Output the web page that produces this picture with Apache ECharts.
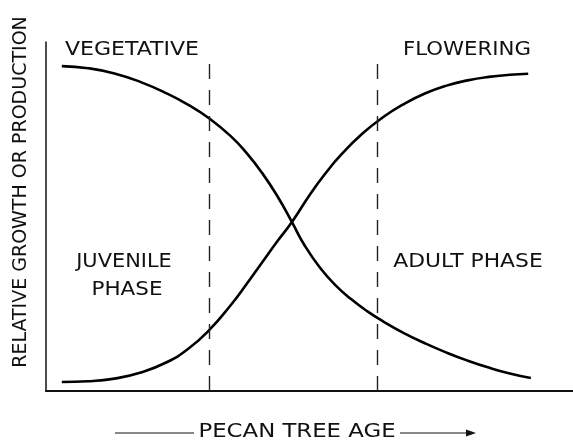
<!DOCTYPE html>
<html>
<head>
<meta charset="utf-8">
<script src="https://cdn.jsdelivr.net/npm/echarts@6/dist/echarts.min.js"></script>
<style>
  html, body { margin: 0; padding: 0; background: #fff; }
  #chart { width: 573px; height: 441px; }
</style>
</head>
<body>
<div id="chart"></div>
<script>
// relative age (0-100) vs relative growth (0-100)
var vegAge = [3, 8, 13, 18, 23, 27, 31, 35, 38, 41, 44, 46.7, 49, 52, 55, 58, 61, 64, 68, 72, 76, 80, 84, 88, 92]
var vegGrowth = [93.1, 92.5, 91.0, 88.5, 85.2, 82.0, 78.1, 73.1, 68.3, 62.5, 55.6, 48.3, 41.9, 35.3, 30.2, 26.2, 22.8, 19.9, 16.5, 13.6, 11.0, 8.7, 6.7, 5.0, 3.7]
var flowerAge = [3, 8, 13, 18, 23, 27, 31, 35, 38, 41, 44, 46.7, 50, 53, 56, 60, 64, 68, 72, 76, 80, 84, 88, 91.5]
var flowerGrowth = [2.6, 2.8, 3.55, 5.3, 8.3, 12.1, 17.5, 24.5, 30.5, 36.8, 43.1, 48.5, 56.1, 62.3, 67.7, 73.7, 78.5, 82.3, 85.3, 87.5, 89.0, 90.0, 90.6, 90.9]
var phaseBounds = [30.9, 62.8]
var phaseTop = 94

var font = '"DejaVu Sans", sans-serif'

function pairs(xs, ys) {
  return xs.map(function (x, i) { return [x, ys[i]] })
}

var chart = echarts.init(document.getElementById('chart'), null, { renderer: 'canvas' })

function label(text, x, y, sx, rot) {
  return {
    type: 'text',
    x: x,
    y: y,
    scaleX: sx || 1,
    rotation: rot || 0,
    style: {
      text: text,
      font: '19px ' + font,
      fill: '#111',
      align: 'center',
      verticalAlign: 'middle'
    }
  }
}

var curveStyle = { color: '#000', width: 2.6 }

var option = {
  animation: false,
  backgroundColor: '#fff',
  grid: { left: 46, right: 0, top: 42, bottom: 50 },
  xAxis: {
    type: 'value',
    min: 0,
    max: 100,
    axisLine: { lineStyle: { color: '#111', width: 2 } },
    axisTick: { show: false },
    axisLabel: { show: false },
    splitLine: { show: false }
  },
  yAxis: {
    type: 'value',
    min: 0,
    max: 100,
    axisLine: { show: true, lineStyle: { color: '#111', width: 1.5 } },
    axisTick: { show: false },
    axisLabel: { show: false },
    splitLine: { show: false }
  },
  series: [
    {
      name: 'Vegetative',
      type: 'line',
      smooth: 0.5,
      symbol: 'none',
      data: pairs(vegAge, vegGrowth),
      lineStyle: curveStyle,
      markLine: {
        silent: true,
        symbol: 'none',
        label: { show: false },
        lineStyle: { color: '#222', width: 1.4, type: [15, 11] },
        data: phaseBounds.map(function (b) {
          return [{ coord: [b, 0] }, { coord: [b, phaseTop] }]
        })
      }
    },
    {
      name: 'Flowering',
      type: 'line',
      smooth: 0.5,
      symbol: 'none',
      data: pairs(flowerAge, flowerGrowth),
      lineStyle: curveStyle
    }
  ],
  graphic: [
    label('VEGETATIVE', 132, 50, 1.16),
    label('FLOWERING', 467, 50, 1.12),
    label('JUVENILE', 124, 262, 1.1),
    label('PHASE', 127, 290, 1.13),
    label('ADULT PHASE', 468, 262, 1.15),
    label('PECAN TREE AGE', 297, 432, 1.2),
    label('RELATIVE GROWTH OR PRODUCTION', 21, 192, 1, Math.PI / 2),
    {
      type: 'line',
      shape: { x1: 115, y1: 433, x2: 194, y2: 433 },
      style: { stroke: '#111', lineWidth: 1 }
    },
    {
      type: 'line',
      shape: { x1: 400, y1: 433, x2: 470, y2: 433 },
      style: { stroke: '#111', lineWidth: 1 }
    },
    {
      type: 'polygon',
      shape: { points: [[476, 433], [466, 429.5], [466, 436.5]] },
      style: { fill: '#111' }
    }
  ]
}

chart.setOption(option)
</script>
</body>
</html>
